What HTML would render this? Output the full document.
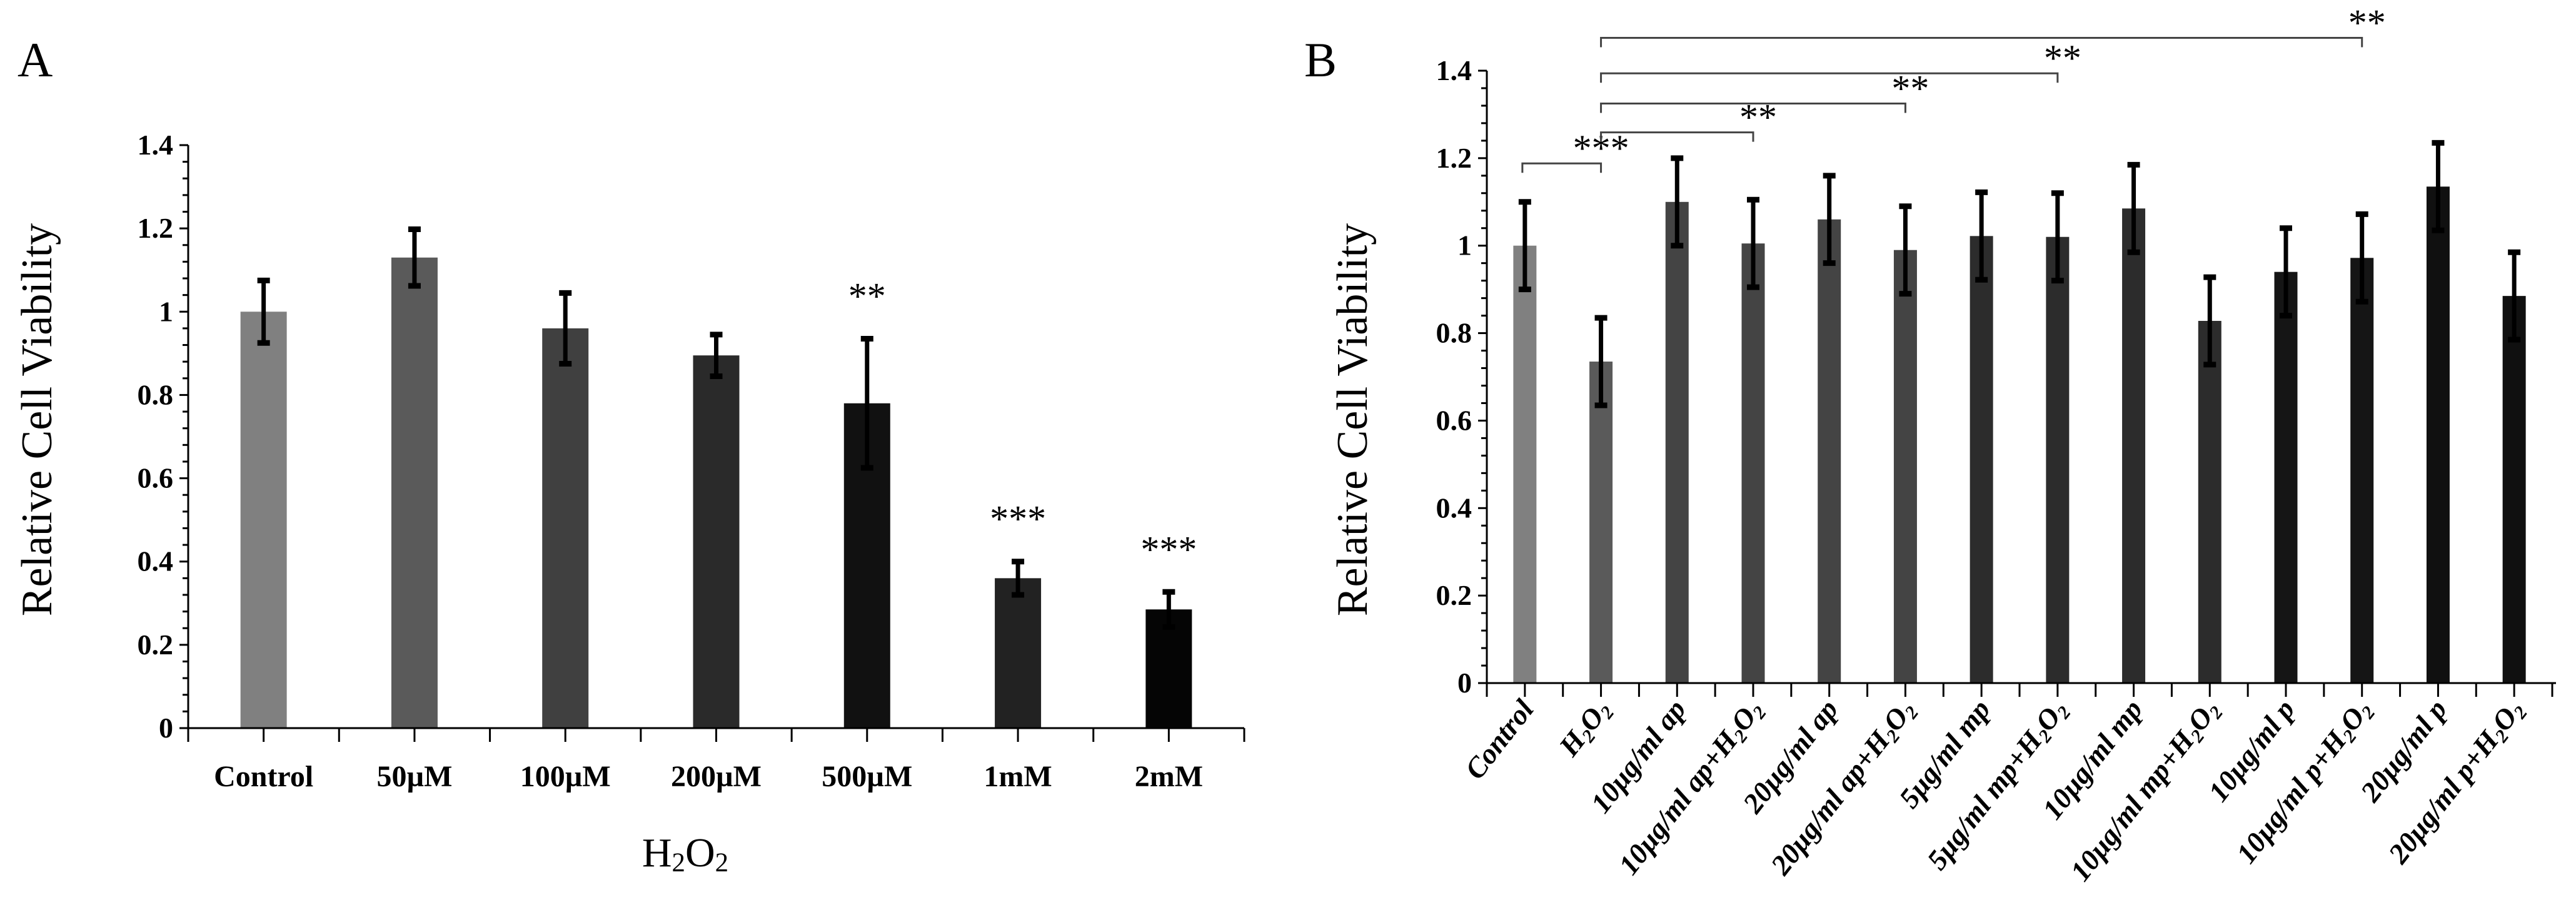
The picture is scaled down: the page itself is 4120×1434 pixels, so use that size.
<!DOCTYPE html>
<html><head><meta charset="utf-8"><style>
html,body{margin:0;padding:0;background:#fff;}
svg{display:block;font-family:"Liberation Serif",serif;}
</style></head><body>
<svg id="chart" width="4120" height="1434" viewBox="0 0 4120 1434" xmlns="http://www.w3.org/2000/svg">
<g id="pa"></g>
<g id="pb"></g>
</svg>
<script>
// Panel A data
const catsA = ["Control","50µM","100µM","200µM","500µM","1mM","2mM"];
const valsA = [1.0,1.13,0.96,0.895,0.78,0.36,0.285];
const errsA = [0.075,0.068,0.085,0.05,0.155,0.04,0.042];
const starsA = ["","","","","**","***","***"];
const colorsA = ["#808080","#5a5a5a","#404040","#2a2a2a","#111111","#222222","#050505"];
const ticksA = [0,0.2,0.4,0.6,0.8,1,1.2,1.4];
const tickLabelsA = ["0","0.2","0.4","0.6","0.8","1","1.2","1.4"];
// Panel B data
const catsB = ["Control","H2O2","10µg/ml ap","10µg/ml ap+H2O2","20µg/ml ap","20µg/ml  ap+H2O2","5µg/ml mp","5µg/ml mp+H2O2","10µg/ml mp","10µg/ml mp+H2O2","10µg/ml p","10µg/ml p+H2O2","20µg/ml p","20µg/ml p+H2O2"];
const valsB = [1.0,0.735,1.1,1.005,1.06,0.99,1.022,1.02,1.085,0.828,0.94,0.972,1.135,0.885];
const errsB = [0.1,0.1,0.1,0.1,0.1,0.1,0.1,0.1,0.1,0.1,0.1,0.1,0.1,0.1];
const colorsB = ["#808080","#5a5a5a","#444444","#444444","#444444","#444444","#2c2c2c","#2c2c2c","#2c2c2c","#2c2c2c","#151515","#151515","#101010","#101010"];
const ticksB = [0,0.2,0.4,0.6,0.8,1,1.2,1.4];
const tickLabelsB = ["0","0.2","0.4","0.6","0.8","1","1.2","1.4"];
const bracketFrom = [0,1,1,1,1];
const bracketTo = [1,3,5,7,11];
const bracketLevel = [1.188,1.259,1.325,1.394,1.475];
const bracketStars = ["***","**","**","**","**"];

const NS="http://www.w3.org/2000/svg";
function mk(parent,tag,attrs,text){const e=document.createElementNS(NS,tag);for(const k in attrs)e.setAttribute(k,attrs[k]);if(text!==undefined)e.textContent=text;parent.appendChild(e);return e;}
function subLabel(t,txt){
  const parts=txt.split(/(H2O2)/);
  parts.forEach(p=>{
    if(p==="H2O2"){
      mk(t,"tspan",{},"H");mk(t,"tspan",{"font-size":"0.65em",dy:"8"},"2");
      mk(t,"tspan",{dy:"-8"},"O");mk(t,"tspan",{"font-size":"0.65em",dy:"8"},"2");
      mk(t,"tspan",{dy:"-8"},"");
    } else if(p) mk(t,"tspan",{},p);
  });
}

function panel(g,o){
  const yS=v=>o.y0-(v/1.4)*(o.y0-o.y14);
  const bw=(o.x1-o.x0)/o.cats.length;
  const xC=i=>o.x0+bw*(i+0.5);
  o.cats.forEach((c,i)=>{
    const r=mk(g,"rect",{x:xC(i)-o.barW/2,y:yS(o.vals[i]),width:o.barW,height:o.y0-yS(o.vals[i]),fill:o.colors[i]});
    
    
    const eg=mk(g,"g",{stroke:"#000","stroke-width":7});
    
    
    const t=yS(o.vals[i]+o.errs[i]),b=yS(o.vals[i]-o.errs[i]);
    mk(eg,"line",{x1:xC(i),x2:xC(i),y1:t,y2:b});
    mk(eg,"line",{x1:xC(i)-10,x2:xC(i)+10,y1:t,y2:t,"stroke-width":9});
    mk(eg,"line",{x1:xC(i)-10,x2:xC(i)+10,y1:b,y2:b,"stroke-width":9});
  });
  const ax=mk(g,"g",{stroke:"#000","stroke-width":3});
  
  
  mk(ax,"line",{x1:o.x0,x2:o.x0,y1:o.y14,y2:o.y0});
  mk(ax,"line",{x1:o.x0,x2:o.x1,y1:o.y0,y2:o.y0});
  for(let v=0;v<=1.4001;v+=0.04){const y=yS(v);const maj=Math.abs(v/0.2-Math.round(v/0.2))<0.01;mk(ax,"line",{x1:o.x0-(maj?14:9),x2:o.x0,y1:y,y2:y});}
  for(let k=0;k<=o.cats.length*2;k++){const x=o.x0+bw*k/2;mk(ax,"line",{x1:x,x2:x,y1:o.y0,y2:o.y0+22});}
  o.ticks.forEach((v,i)=>{
    const t=mk(g,"text",{x:o.x0-24,y:yS(v)+15,"text-anchor":"end","font-size":46,"font-weight":"bold"},o.tickLabels[i]);
    
    
  });
  return {yS,xC,bw};
}

// Panel A
const ga=document.getElementById('pa');
const A=panel(ga,{x0:301,x1:1990,y0:1164,y14:232,barW:74,cats:catsA,vals:valsA,errs:errsA,colors:colorsA,ticks:ticksA,tickLabels:tickLabelsA});
catsA.forEach((c,i)=>{
  const t=mk(ga,"text",{x:A.xC(i),y:1257,"text-anchor":"middle","font-size":48,"font-weight":"bold"},c);
  
  
  if(starsA[i]){const s=mk(ga,"text",{x:A.xC(i),y:A.yS(valsA[i]+errsA[i])-48,"text-anchor":"middle","font-size":60},starsA[i]);
    
    }
});
{const t=mk(ga,"text",{x:0,y:0,transform:"translate(82,671) rotate(-90)","text-anchor":"middle","font-size":70},"Relative Cell Viability");

const l=mk(ga,"text",{x:28,y:122,"font-size":78},"A");
const x=mk(ga,"text",{x:1096,y:1385,"text-anchor":"middle","font-size":66},"");subLabel(x,"H2O2");
}

// Panel B
const gb=document.getElementById('pb');
const B=panel(gb,{x0:2378,x1:4082,y0:1092,y14:113,barW:37,cats:catsB,vals:valsB,errs:errsB,colors:colorsB,ticks:ticksB,tickLabels:tickLabelsB});
mk(gb,"line",{x1:4082,x2:4088,y1:1092,y2:1092,stroke:"#000","stroke-width":3});
catsB.forEach((c,i)=>{
  const t=mk(gb,"text",{x:0,y:0,transform:`translate(${B.xC(i)+16},${1134}) rotate(-52)`,"text-anchor":"end","font-size":46,"font-weight":"bold","font-style":"italic"});
  subLabel(t,c);
  
  
});
bracketFrom.forEach((f,k)=>{
  const x1=B.xC(f)-(k===0?4:0),x2=B.xC(bracketTo[k]),y=B.yS(bracketLevel[k]);
  const p=mk(gb,"path",{d:`M${x1},${y+15}V${y}H${x2}V${y+15}`,fill:"none",stroke:"#444","stroke-width":3});
  
  
  const s=mk(gb,"text",{x:x2+(k===0?0:8),y:y-4,"text-anchor":"middle","font-size":60},bracketStars[k]);
  
  
});
{const t=mk(gb,"text",{x:0,y:0,transform:"translate(2186,671) rotate(-90)","text-anchor":"middle","font-size":70},"Relative Cell Viability");

const l=mk(gb,"text",{x:2086,y:122,"font-size":78},"B");}
</script>
</body></html>
